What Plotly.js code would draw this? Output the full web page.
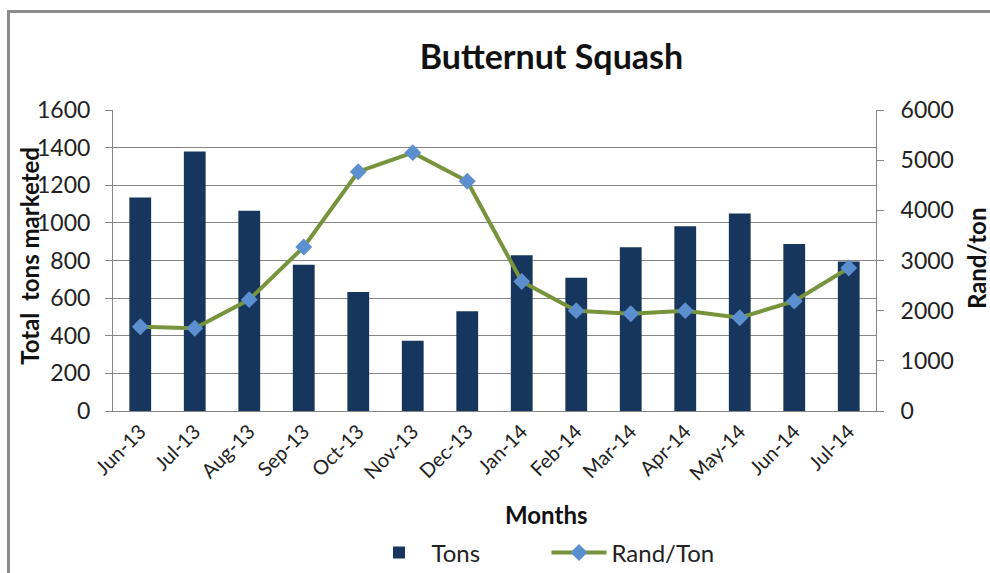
<!DOCTYPE html>
<html>
<head>
<meta charset="utf-8">
<script src="https://cdn.plot.ly/plotly-3.0.1.min.js"></script>
<style>
  html, body { margin: 0; padding: 0; background: #fff; }
  #wrap { position: relative; width: 990px; height: 573px; overflow: hidden; }
  #chart { width: 990px; height: 573px; }
  #frame { position: absolute; left: 7px; top: 10px; width: 1000px; height: 700px;
           border: 3px solid #8c8c8c; box-sizing: border-box; pointer-events: none; }
</style>
</head>
<body>
<div id="wrap">
  <div id="chart"></div>
  <div id="frame"></div>
</div>
<script>
const months = ["Jun-13","Jul-13","Aug-13","Sep-13","Oct-13","Nov-13","Dec-13",
                "Jan-14","Feb-14","Mar-14","Apr-14","May-14","Jun-14","Jul-14"];
const tons = [1135, 1380, 1065, 778, 632, 374, 530, 828, 708, 870, 982, 1050, 888, 795];
const randPerTon = [1680, 1650, 2220, 3270, 4770, 5150, 4580, 2580, 2000, 1940, 2000, 1860, 2190, 2850];

const leftTicks = [0,200,400,600,800,1000,1200,1400,1600];
const rightTicks = [0,1000,2000,3000,4000,5000,6000];

const FONT = "Lato, 'Open Sans', sans-serif";

const traces = [
  {
    type: "bar", name: "Tons", x: months, y: tons,
    marker: { color: "#17365D" }, width: 0.40
  },
  {
    type: "scatter", mode: "lines+markers", name: "Rand/Ton", x: months, y: randPerTon,
    yaxis: "y2",
    line: { color: "#77933C", width: 4 },
    marker: { symbol: "diamond", size: 13, color: "#5B8FD0", line: { width: 0 } }
  }
];

const layout = {
  width: 990, height: 573,
  margin: { l: 113, r: 114, t: 110, b: 162 },
  paper_bgcolor: "#fff", plot_bgcolor: "#fff",
  font: { family: FONT, color: "#1a1a1a" },
  title: {
    text: "<b>Butternut Squash</b>",
    font: { family: FONT, size: 34, color: "#111" },
    xref: "container", x: 0.557, xanchor: "center",
    yref: "container", y: 0.90, yanchor: "middle"
  },
  xaxis: {
    type: "category",
    range: [-0.5, months.length - 0.5],
    tickangle: -45,
    tickfont: { family: FONT, size: 20, color: "#222" },
    showline: true, linecolor: "#868686", linewidth: 1,
    ticks: "", showgrid: false, zeroline: false
  },
  yaxis: {
    range: [0, 1600], tickvals: leftTicks, ticktext: leftTicks.map(String),
    tickfont: { family: FONT, size: 23, color: "#222" },
    showgrid: true, gridcolor: "#868686", gridwidth: 1,
    showline: true, linecolor: "#868686", linewidth: 1,
    ticks: "outside", ticklen: 7, tickcolor: "#868686",
    ticklabelstandoff: 10,
    zeroline: false
  },
  yaxis2: {
    overlaying: "y", side: "right",
    range: [0, 6000], tickvals: rightTicks, ticktext: rightTicks.map(String),
    tickfont: { family: FONT, size: 23, color: "#222" },
    showgrid: false,
    showline: true, linecolor: "#868686", linewidth: 1,
    ticks: "outside", ticklen: 7, tickcolor: "#868686",
    ticklabelstandoff: 12,
    zeroline: false
  },
  showlegend: true,
  legend: {
    orientation: "h",
    xref: "container", x: 0.552, xanchor: "center",
    yref: "container", y: 0.035, yanchor: "middle",
    font: { family: FONT, size: 24, color: "#222" },
    itemwidth: 55, entrywidth: 110, entrywidthmode: "pixels"
  },
  annotations: [
    {
      text: "<b>Total  tons marketed</b>", textangle: -90,
      xref: "paper", yref: "paper", x: -0.109, y: 0.515,
      xanchor: "center", yanchor: "middle", showarrow: false,
      font: { family: FONT, size: 24, color: "#111" }
    },
    {
      text: "<b>Rand/ton</b>", textangle: -90,
      xref: "paper", yref: "paper", x: 1.132, y: 0.507,
      xanchor: "center", yanchor: "middle", showarrow: false,
      font: { family: FONT, size: 24, color: "#111" }
    },
    {
      text: "<b>Months</b>",
      xref: "paper", yref: "paper", x: 0.5675, y: -0.3455,
      xanchor: "center", yanchor: "middle", showarrow: false,
      font: { family: FONT, size: 24, color: "#111" }
    }
  ]
};

Plotly.newPlot("chart", traces, layout, { displayModeBar: false, staticPlot: true });
</script>
</body>
</html>
